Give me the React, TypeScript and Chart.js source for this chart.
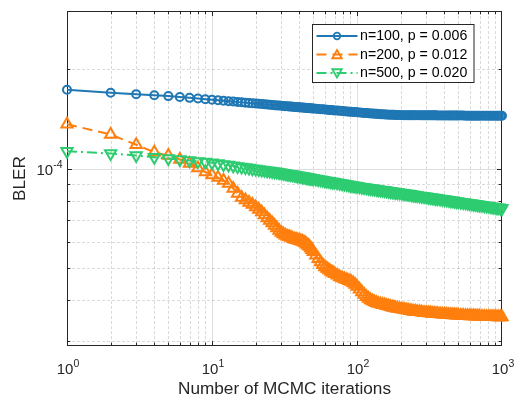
import React, { useEffect, useRef } from "react";
import { Chart, registerables } from "chart.js";

Chart.register(...registerables);

// ---------- data ----------
const iterations = [
  1, 2, 3, 4, 5, 6, 7, 8, 9, 10,
  11, 12, 13, 14, 15, 16, 17, 18, 19, 20,
  21, 22, 23, 24, 25, 26, 27, 28, 29, 30,
  31, 32, 33, 34, 35, 36, 37, 38, 39, 40,
  41, 42, 43, 44, 45, 46, 47, 48, 49, 50,
  52, 54, 56, 58, 60, 62, 64, 66, 68, 70,
  73, 76, 79, 82, 85, 88, 91, 94, 97, 100,
  104, 108, 112, 116, 120, 124, 128, 132, 136, 140,
  145, 150, 155, 160, 165, 170, 175, 180, 185, 190,
  197, 204, 211, 218, 225, 232, 239, 246, 253, 260,
  270, 280, 290, 300, 310, 320, 330, 340, 350, 360,
  374, 388, 402, 416, 430, 444, 458, 472, 486, 500,
  520, 540, 560, 580, 600, 620, 640, 660, 680, 700,
  728, 756, 784, 812, 840, 868, 896, 924, 952, 980, 1000,
];

// BLER values in units of 1e-4
const blerN100 = [
  1.732, 1.696, 1.68, 1.668, 1.657, 1.646, 1.637, 1.629, 1.622, 1.615,
  1.609, 1.604, 1.599, 1.595, 1.59, 1.587, 1.583, 1.579, 1.576, 1.573,
  1.571, 1.568, 1.565, 1.563, 1.56, 1.558, 1.556, 1.553, 1.551, 1.549,
  1.547, 1.545, 1.543, 1.542, 1.54, 1.539, 1.537, 1.535, 1.534, 1.532,
  1.531, 1.53, 1.528, 1.527, 1.526, 1.524, 1.523, 1.522, 1.521, 1.519,
  1.517, 1.515, 1.513, 1.511, 1.509, 1.507, 1.505, 1.504, 1.502, 1.5,
  1.498, 1.495, 1.493, 1.491, 1.489, 1.487, 1.485, 1.484, 1.482, 1.48,
  1.478, 1.476, 1.474, 1.472, 1.47, 1.468, 1.467, 1.466, 1.464, 1.463,
  1.461, 1.46, 1.458, 1.457, 1.456, 1.455, 1.455, 1.454, 1.453, 1.452,
  1.452, 1.451, 1.451, 1.451, 1.45, 1.45, 1.45, 1.45, 1.45, 1.45,
  1.45, 1.449, 1.449, 1.449, 1.449, 1.449, 1.449, 1.449, 1.449, 1.448,
  1.448, 1.448, 1.448, 1.448, 1.448, 1.447, 1.447, 1.447, 1.447, 1.447,
  1.447, 1.447, 1.446, 1.446, 1.446, 1.446, 1.446, 1.446, 1.446, 1.446,
  1.446, 1.445, 1.445, 1.445, 1.445, 1.445, 1.445, 1.445, 1.445, 1.445, 1.445,
];

const blerN200 = [
  1.362, 1.268, 1.18, 1.12, 1.095, 1.065, 1.036, 1.003, 0.976, 0.956,
  0.939, 0.92, 0.901, 0.87, 0.84, 0.817, 0.803, 0.789, 0.778, 0.764,
  0.751, 0.738, 0.723, 0.708, 0.696, 0.684, 0.672, 0.66, 0.649, 0.64,
  0.633, 0.628, 0.624, 0.621, 0.618, 0.614, 0.611, 0.609, 0.607, 0.605,
  0.603, 0.601, 0.598, 0.595, 0.59, 0.585, 0.58, 0.573, 0.567, 0.56,
  0.546, 0.533, 0.521, 0.511, 0.503, 0.498, 0.493, 0.488, 0.484, 0.48,
  0.475, 0.469, 0.466, 0.463, 0.46, 0.457, 0.455, 0.45, 0.445, 0.439,
  0.431, 0.423, 0.415, 0.409, 0.404, 0.4, 0.397, 0.394, 0.392, 0.39,
  0.389, 0.387, 0.386, 0.384, 0.383, 0.381, 0.38, 0.379, 0.378, 0.377,
  0.376, 0.375, 0.374, 0.373, 0.372, 0.371, 0.37, 0.369, 0.369, 0.368,
  0.368, 0.367, 0.366, 0.366, 0.365, 0.365, 0.364, 0.364, 0.363, 0.363,
  0.3626, 0.3621, 0.3616, 0.3612, 0.3608, 0.3604, 0.3601, 0.3598, 0.3596, 0.3593,
  0.359, 0.3587, 0.3584, 0.3581, 0.3578, 0.3575, 0.3573, 0.357, 0.3568, 0.3566,
  0.3564, 0.3561, 0.3559, 0.3557, 0.3556, 0.3555, 0.3554, 0.3552, 0.3551, 0.355, 0.3549,
];

const blerN500 = [
  1.128, 1.11, 1.095, 1.081, 1.072, 1.064, 1.057, 1.051, 1.046, 1.041,
  1.035, 1.029, 1.024, 1.019, 1.015, 1.011, 1.007, 1.003, 0.999, 0.997,
  0.993, 0.99, 0.988, 0.985, 0.982, 0.98, 0.977, 0.976, 0.973, 0.971,
  0.968, 0.966, 0.963, 0.961, 0.959, 0.957, 0.955, 0.953, 0.951, 0.949,
  0.947, 0.945, 0.944, 0.942, 0.94, 0.938, 0.937, 0.935, 0.934, 0.932,
  0.93, 0.927, 0.924, 0.922, 0.919, 0.917, 0.915, 0.912, 0.91, 0.908,
  0.905, 0.902, 0.899, 0.897, 0.894, 0.892, 0.889, 0.887, 0.885, 0.883,
  0.881, 0.878, 0.876, 0.874, 0.872, 0.87, 0.869, 0.867, 0.865, 0.863,
  0.861, 0.859, 0.858, 0.856, 0.854, 0.852, 0.851, 0.849, 0.848, 0.846,
  0.844, 0.842, 0.84, 0.838, 0.837, 0.835, 0.833, 0.832, 0.83, 0.829,
  0.826, 0.824, 0.823, 0.821, 0.819, 0.817, 0.815, 0.814, 0.812, 0.811,
  0.809, 0.807, 0.805, 0.803, 0.801, 0.799, 0.798, 0.796, 0.795, 0.793,
  0.791, 0.789, 0.787, 0.785, 0.784, 0.782, 0.78, 0.779, 0.777, 0.776,
  0.774, 0.771, 0.77, 0.768, 0.766, 0.764, 0.763, 0.761, 0.76, 0.758, 0.757,
];

const seriesLabels = ["n=100, p = 0.006", "n=200, p = 0.012", "n=500, p = 0.020"];
const xTickValues = [1, 10, 100, 1000];
const xTickExponents = ["0", "1", "2", "3"];
const yTickValues = [1e-4];
const yTickExponents = ["-4"];
const xTitle = "Number of MCMC iterations";
const yTitle = "BLER";

const UNIT = 1e-4;
const FONT = '"Liberation Sans", Arial, Helvetica, sans-serif';
const AXIS_COLOR = "#262626";

type Style = { color: string; dash: number[]; marker: "circle" | "up" | "down"; radius: number };
const styles: Style[] = [
  { color: "#1f77b4", dash: [], marker: "circle", radius: 4 },
  { color: "#ff7f0e", dash: [10, 6], marker: "up", radius: 6.5 },
  { color: "#2ecc71", dash: [10, 4, 2, 4], marker: "down", radius: 6.5 },
];

function drawMarker(ctx: CanvasRenderingContext2D, m: Style["marker"], x: number, y: number, r: number) {
  ctx.beginPath();
  if (m === "circle") {
    ctx.arc(x, y, r, 0, Math.PI * 2);
  } else {
    const a0 = m === "up" ? 0 : Math.PI;
    for (let k = 0; k < 3; k++) {
      const a = a0 + (k * 2 * Math.PI) / 3;
      const px = x + Math.sin(a) * r;
      const py = y - Math.cos(a) * r;
      if (k === 0) ctx.moveTo(px, py);
      else ctx.lineTo(px, py);
    }
    ctx.closePath();
  }
  ctx.stroke();
}

function drawPow(
  ctx: CanvasRenderingContext2D,
  exp: string,
  x: number,
  baseline: number,
  align: "center" | "right"
) {
  const baseFont = `15px ${FONT}`;
  const supFont = `10.5px ${FONT}`;
  ctx.font = baseFont;
  const wb = ctx.measureText("10").width;
  ctx.font = supFont;
  const ws = ctx.measureText(exp).width;
  const total = wb + ws;
  const x0 = align === "center" ? x - total / 2 : x - total;
  ctx.textAlign = "left";
  ctx.textBaseline = "alphabetic";
  ctx.font = baseFont;
  ctx.fillText("10", x0, baseline);
  ctx.font = supFont;
  ctx.fillText(exp, x0 + wb, baseline - 7);
}

const matlabAxes = {
  id: "matlabAxes",
  beforeDatasetsDraw(chart: any) {
    const { ctx, chartArea: a, scales } = chart;
    const xs = scales.x;
    const ys = scales.y;
    ctx.save();
    const xMinor: number[] = [];
    for (const d of [1, 10, 100]) for (let k = 2; k <= 9; k++) xMinor.push(k * d);
    const yMinor = [3e-5, 4e-5, 5e-5, 6e-5, 7e-5, 8e-5, 9e-5, 2e-4];
    const xMajor = [10, 100];
    const yMajor = [1e-4];

    // minor grid (dotted)
    ctx.lineWidth = 1;
    ctx.strokeStyle = "rgba(38,38,38,0.17)";
    ctx.setLineDash([3, 2]);
    ctx.beginPath();
    for (const v of xMinor) {
      const px = Math.round(xs.getPixelForValue(v)) + 0.5;
      ctx.moveTo(px, a.top);
      ctx.lineTo(px, a.bottom);
    }
    for (const v of yMinor) {
      const py = Math.round(ys.getPixelForValue(v)) + 0.5;
      ctx.moveTo(a.left, py);
      ctx.lineTo(a.right, py);
    }
    ctx.stroke();
    // major grid (solid)
    ctx.setLineDash([]);
    ctx.strokeStyle = "rgba(38,38,38,0.15)";
    ctx.beginPath();
    for (const v of xMajor) {
      const px = Math.round(xs.getPixelForValue(v)) + 0.5;
      ctx.moveTo(px, a.top);
      ctx.lineTo(px, a.bottom);
    }
    for (const v of yMajor) {
      const py = Math.round(ys.getPixelForValue(v)) + 0.5;
      ctx.moveTo(a.left, py);
      ctx.lineTo(a.right, py);
    }
    ctx.stroke();

    // box
    ctx.strokeStyle = AXIS_COLOR;
    ctx.lineWidth = 1;
    const L = Math.round(a.left) + 0.5;
    const R = Math.round(a.right) - 0.5;
    const T = Math.round(a.top) + 0.5;
    const B = Math.round(a.bottom) - 0.5;
    ctx.strokeRect(L, T, R - L, B - T);

    // ticks (inside, on all four sides)
    ctx.beginPath();
    const xt = (v: number, len: number) => {
      const px = Math.round(xs.getPixelForValue(v)) + 0.5;
      ctx.moveTo(px, B);
      ctx.lineTo(px, B - len);
      ctx.moveTo(px, T);
      ctx.lineTo(px, T + len);
    };
    const yt = (v: number, len: number) => {
      const py = Math.round(ys.getPixelForValue(v)) + 0.5;
      ctx.moveTo(L, py);
      ctx.lineTo(L + len, py);
      ctx.moveTo(R, py);
      ctx.lineTo(R - len, py);
    };
    xMajor.forEach((v) => xt(v, 4.5));
    xMinor.forEach((v) => xt(v, 2.8));
    yMajor.forEach((v) => yt(v, 4.5));
    yMinor.forEach((v) => yt(v, 2.8));
    ctx.stroke();
    ctx.restore();
  },
  afterDraw(chart: any) {
    const { ctx, chartArea: a, scales } = chart;
    const xs = scales.x;
    const ys = scales.y;
    ctx.save();
    ctx.fillStyle = AXIS_COLOR;
    xTickValues.forEach((v, i) => {
      drawPow(ctx, xTickExponents[i], xs.getPixelForValue(v) + 1, 374, "center");
    });
    yTickValues.forEach((v, i) => {
      drawPow(ctx, yTickExponents[i], a.left - 4.5, ys.getPixelForValue(v) + 6.5, "right");
    });
    ctx.font = `17.2px ${FONT}`;
    ctx.textAlign = "center";
    ctx.textBaseline = "alphabetic";
    ctx.fillText(xTitle, (a.left + a.right) / 2, 394.3);
    ctx.save();
    ctx.translate(24.5, (a.top + a.bottom) / 2);
    ctx.rotate(-Math.PI / 2);
    ctx.fillText(yTitle, 0, 0);
    ctx.restore();

    // legend
    const bx = 312.5, by = 24.5, bw = 161.5, bh = 58;
    ctx.fillStyle = "#ffffff";
    ctx.fillRect(bx, by, bw, bh);
    ctx.strokeStyle = AXIS_COLOR;
    ctx.lineWidth = 1;
    ctx.strokeRect(bx, by, bw, bh);
    seriesLabels.forEach((label, i) => {
      const st = styles[i];
      const cy = 36 + i * 18.5;
      ctx.strokeStyle = st.color;
      ctx.lineWidth = 2;
      ctx.setLineDash(st.dash);
      ctx.beginPath();
      ctx.moveTo(316.5, cy);
      ctx.lineTo(357.5, cy);
      ctx.stroke();
      ctx.setLineDash([]);
      ctx.lineWidth = 1.8;
      drawMarker(
        ctx,
        st.marker,
        337,
        cy + (st.marker === "up" ? 1 : st.marker === "down" ? -1 : 0),
        st.marker === "circle" ? 3.3 : 5.5
      );
      ctx.fillStyle = "#000000";
      ctx.font = `14.2px ${FONT}`;
      ctx.textAlign = "left";
      ctx.textBaseline = "middle";
      ctx.fillText(label, 360, cy + 0.5);
    });
    ctx.restore();
  },
};

export default function App() {
  const canvasRef = useRef<HTMLCanvasElement | null>(null);

  useEffect(() => {
    const canvas = canvasRef.current;
    if (!canvas) return;
    const series = [blerN100, blerN200, blerN500];
    const chart = new Chart(canvas, {
      type: "line",
      data: {
        datasets: series.map((vals, i) => ({
          label: seriesLabels[i],
          data: iterations.map((x, j) => ({ x, y: vals[j] * UNIT })),
          borderColor: styles[i].color,
          borderWidth: 2,
          borderDash: styles[i].dash,
          pointStyle: styles[i].marker === "circle" ? "circle" : "triangle",
          pointRotation: styles[i].marker === "down" ? 180 : 0,
          pointRadius: styles[i].radius,
          pointBorderWidth: 2,
          pointBorderColor: styles[i].color,
          pointBackgroundColor: "rgba(0,0,0,0)",
          fill: false,
          tension: 0,
          clip: false as any,
          order: 2 - i,
        })),
      },
      options: {
        responsive: false,
        animation: false,
        events: [],
        layout: { padding: { left: 0, top: 11, right: 13, bottom: 0 } },
        plugins: { legend: { display: false }, tooltip: { enabled: false } },
        scales: {
          x: {
            type: "logarithmic",
            min: 1,
            max: 1000,
            grid: { display: false },
            border: { display: false },
            ticks: { display: false },
            afterFit: (s: any) => {
              s.height = 52;
            },
          },
          y: {
            type: "logarithmic",
            min: 2.9e-5,
            max: 3e-4,
            grid: { display: false },
            border: { display: false },
            ticks: { display: false },
            afterFit: (s: any) => {
              s.width = 67;
            },
          },
        },
      },
      plugins: [matlabAxes],
    });
    return () => chart.destroy();
  }, []);

  return (
    <div style={{ position: "absolute", left: 0, top: 0, width: 515, height: 398, background: "#fff" }}>
      <canvas ref={canvasRef} width={515} height={398} style={{ display: "block" }} />
    </div>
  );
}
